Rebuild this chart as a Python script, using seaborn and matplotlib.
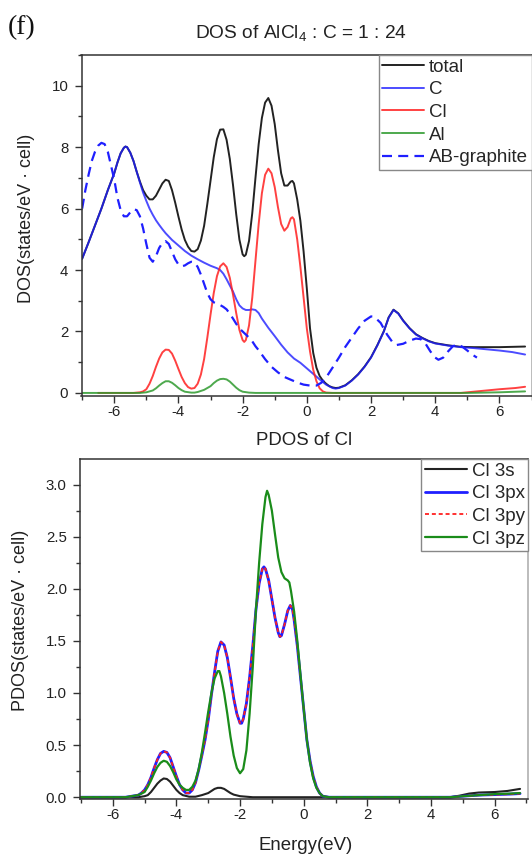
import matplotlib
matplotlib.use("Agg")
import matplotlib.pyplot as plt
from matplotlib.ticker import MultipleLocator
from matplotlib.lines import Line2D
import pandas as pd
import seaborn as sns

# ---------------- Upper panel: DOS of AlCl4 : C = 1 : 24 ----------------
total_e = [-7.0, -6.8, -6.6, -6.4, -6.2, -6.0, -5.9, -5.8, -5.7, -5.65, -5.6, -5.5, -5.4, -5.3,
           -5.2, -5.1, -5.0, -4.9, -4.8, -4.7, -4.6, -4.5, -4.4, -4.3, -4.2, -4.1, -4.0, -3.9,
           -3.8, -3.7, -3.6, -3.5, -3.4, -3.3, -3.2, -3.1, -3.0, -2.9, -2.8, -2.7, -2.6, -2.5,
           -2.4, -2.3, -2.2, -2.1, -2.0, -1.95, -1.9, -1.8, -1.7, -1.6, -1.5, -1.4, -1.3, -1.2,
           -1.1, -1.0, -0.9, -0.8, -0.7, -0.6, -0.5, -0.45, -0.4, -0.3, -0.2, -0.1, 0.0, 0.1,
           0.2, 0.3, 0.4, 0.5, 0.6, 0.7, 0.8, 0.9, 1.0, 1.2, 1.4, 1.6, 1.8, 2.0, 2.2, 2.4, 2.55,
           2.7, 2.85, 3.0, 3.2, 3.4, 3.6, 3.8, 4.0, 4.4, 4.8, 5.2, 5.6, 6.0, 6.4, 6.8]
total_dos = [4.37, 4.9, 5.45, 6.0, 6.6, 7.15, 7.5, 7.8, 7.98, 8.02, 8.0, 7.82, 7.55, 7.2,
             6.88, 6.6, 6.42, 6.3, 6.3, 6.42, 6.62, 6.82, 6.94, 6.9, 6.6, 6.19, 5.74, 5.32,
             4.98, 4.76, 4.62, 4.6, 4.68, 4.96, 5.44, 6.15, 6.91, 7.67, 8.26, 8.57, 8.58, 8.24,
             7.62, 6.77, 5.82, 4.99, 4.51, 4.45, 4.5, 4.95, 5.85, 7.0, 8.1, 8.95, 9.45, 9.6,
             9.35, 8.75, 7.9, 7.15, 6.75, 6.75, 6.88, 6.9, 6.82, 6.3, 5.6, 4.6, 3.4, 2.1,
             1.3, 0.82, 0.55, 0.4, 0.3, 0.22, 0.18, 0.16, 0.17, 0.25, 0.41, 0.61, 0.86, 1.16, 1.56, 2.01, 2.46,
             2.71, 2.59, 2.36, 2.11, 1.91, 1.79, 1.69, 1.62, 1.55, 1.5, 1.49, 1.49, 1.49, 1.5, 1.51]

c_e = [-7.0, -6.8, -6.6, -6.4, -6.2, -6.0, -5.9, -5.8, -5.7, -5.65, -5.6, -5.5, -5.4, -5.3, -5.2,
       -5.1, -5.0, -4.9, -4.8, -4.7, -4.6, -4.5, -4.4, -4.2, -4.0, -3.8, -3.6, -3.4, -3.2, -3.0,
       -2.8, -2.7, -2.6, -2.5, -2.4, -2.3, -2.2, -2.1, -2.0, -1.9, -1.8, -1.7, -1.6, -1.5, -1.4,
       -1.3, -1.2, -1.0, -0.8, -0.6, -0.4, -0.2, 0.0, 0.2, 0.4, 0.6, 0.8, 0.9, 1.0, 1.2, 1.4,
       1.6, 1.8, 2.0, 2.2, 2.4, 2.55, 2.7, 2.85, 3.0, 3.2, 3.4, 3.6, 3.8, 4.0, 4.4, 4.8, 5.2,
       5.6, 6.0, 6.4, 6.8]
c_dos = [4.37, 4.9, 5.45, 6.0, 6.6, 7.15, 7.5, 7.8, 7.98, 8.02, 8.0, 7.82, 7.55, 7.2, 6.85,
         6.52, 6.25, 6.0, 5.8, 5.62, 5.47, 5.33, 5.2, 4.98, 4.8, 4.62, 4.47, 4.35, 4.24, 4.14,
         4.06, 4.0, 3.88, 3.7, 3.5, 3.3, 3.05, 2.85, 2.75, 2.7, 2.7, 2.72, 2.7, 2.6, 2.42,
         2.27, 2.12, 1.85, 1.57, 1.32, 1.12, 0.98, 0.8, 0.62, 0.44, 0.27, 0.16, 0.14, 0.16, 0.24, 0.4,
         0.6, 0.85, 1.15, 1.55, 2.0, 2.45, 2.7, 2.58, 2.35, 2.1, 1.9, 1.78, 1.68, 1.61, 1.54, 1.49, 1.46,
         1.42, 1.38, 1.33, 1.25]

cl_e = [-6.5, -5.4, -5.2, -5.1, -5.0, -4.9, -4.8, -4.7, -4.6, -4.5, -4.4, -4.3, -4.2, -4.1, -4.0,
        -3.9, -3.8, -3.7, -3.6, -3.5, -3.4, -3.3, -3.2, -3.1, -3.0, -2.9, -2.8, -2.7, -2.6, -2.5,
        -2.4, -2.3, -2.2, -2.1, -2.0, -1.95, -1.9, -1.8, -1.7, -1.6, -1.5, -1.4, -1.3, -1.2, -1.1,
        -1.0, -0.9, -0.8, -0.7, -0.6, -0.5, -0.45, -0.4, -0.3, -0.2, -0.1, 0.0, 0.1, 0.2, 0.3,
        0.4, 0.5, 0.6, 0.8, 4.8, 5.5, 6.0, 6.5, 6.8]
cl_dos = [0.0, 0.0, 0.02, 0.05, 0.12, 0.3, 0.55, 0.85, 1.12, 1.32, 1.41, 1.4, 1.28, 1.05, 0.78,
          0.52, 0.32, 0.19, 0.14, 0.16, 0.3, 0.6, 1.1, 1.8, 2.55, 3.25, 3.8, 4.12, 4.22, 4.1,
          3.75, 3.2, 2.6, 2.05, 1.72, 1.66, 1.72, 2.2, 3.1, 4.3, 5.5, 6.5, 7.1, 7.3, 7.15,
          6.7, 6.05, 5.5, 5.28, 5.4, 5.68, 5.72, 5.65, 5.0, 4.1, 3.1, 2.1, 1.35, 0.75, 0.38,
          0.15, 0.05, 0.01, 0.0, 0.0, 0.07, 0.12, 0.16, 0.2]

al_e = [-7.0, -5.2, -5.0, -4.8, -4.7, -4.6, -4.5, -4.4, -4.3, -4.2, -4.1, -4.0, -3.9, -3.8, -3.6,
        -3.5, -3.4, -3.2, -3.0, -2.9, -2.8, -2.7, -2.6, -2.5, -2.4, -2.3, -2.2, -2.1, -2.0, -1.8,
        -1.6, 5.0, 6.0, 6.8]
al_dos = [0.0, 0.0, 0.02, 0.08, 0.15, 0.24, 0.32, 0.38, 0.38, 0.33, 0.25, 0.16, 0.09, 0.04, 0.01,
          0.01, 0.03, 0.1, 0.22, 0.32, 0.4, 0.45, 0.46, 0.44, 0.37, 0.27, 0.17, 0.09, 0.04, 0.01,
          0.0, 0.0, 0.02, 0.05]

abg_e = [-7.0, -6.9, -6.8, -6.7, -6.6, -6.5, -6.4, -6.3, -6.2, -6.1, -6.0, -5.9, -5.8, -5.7, -5.6,
         -5.5, -5.4, -5.3, -5.2, -5.1, -5.0, -4.9, -4.8, -4.7, -4.6, -4.5, -4.4, -4.3, -4.2, -4.1,
         -4.0, -3.9, -3.8, -3.7, -3.6, -3.5, -3.4, -3.3, -3.2, -3.1, -3.0, -2.9, -2.8, -2.7, -2.6,
         -2.5, -2.4, -2.3, -2.2, -2.1, -2.0, -1.9, -1.8, -1.7, -1.6, -1.5, -1.3, -1.1, -0.9, -0.7,
         -0.5, -0.3, -0.1, 0.1, 0.3, 0.45, 0.6, 0.8, 1.0, 1.2, 1.4, 1.6, 1.8, 2.0, 2.1, 2.3, 2.5,
         2.65, 2.8, 3.0, 3.2, 3.4, 3.55, 3.7, 3.85, 4.0, 4.1, 4.25, 4.4, 4.55, 4.7, 4.85, 5.0,
         5.15, 5.3]
abg_dos = [6.0, 6.6, 7.1, 7.55, 7.85, 8.05, 8.14, 8.1, 7.85, 7.4, 6.95, 6.35, 5.95, 5.75, 5.75,
           5.88, 5.98, 5.95, 5.75, 5.35, 4.85, 4.4, 4.27, 4.45, 4.72, 4.88, 4.94, 4.85, 4.6, 4.35,
           4.18, 4.12, 4.15, 4.22, 4.27, 4.25, 4.1, 3.85, 3.55, 3.25, 3.05, 2.95, 2.9, 2.86, 2.8,
           2.72, 2.58, 2.42, 2.25, 2.1, 2.0, 1.9, 1.8, 1.68, 1.52, 1.39, 1.1, 0.85, 0.67, 0.52,
           0.43, 0.34, 0.27, 0.24, 0.24, 0.33, 0.5, 0.82, 1.15, 1.5, 1.8, 2.1, 2.35, 2.49, 2.48, 2.28, 1.9,
           1.68, 1.56, 1.6, 1.7, 1.77, 1.75, 1.6, 1.35, 1.15, 1.08, 1.15, 1.35, 1.52, 1.58, 1.5, 1.38,
           1.25, 1.15]

# ---------------- Lower panel: PDOS of Cl ----------------
s_e = [-7.0, -5.2, -5.0, -4.9, -4.8, -4.7, -4.6, -4.5, -4.4, -4.3, -4.2, -4.1, -4.0, -3.9, -3.8,
       -3.6, -3.4, -3.2, -3.0, -2.9, -2.8, -2.7, -2.6, -2.5, -2.4, -2.3, -2.2, -2.0, -1.8, -1.6,
       -1.4, 4.6, 4.9, 5.2, 5.5, 6.0, 6.4, 6.8]
s_pdos = [0.0, 0.0, 0.01, 0.02, 0.05, 0.09, 0.13, 0.16, 0.18, 0.175, 0.15, 0.11, 0.07, 0.04, 0.02,
          0.005, 0.005, 0.02, 0.04, 0.06, 0.08, 0.09, 0.09, 0.08, 0.06, 0.04, 0.025, 0.01, 0.005, 0.0,
          0.0, 0.0, 0.015, 0.035, 0.045, 0.05, 0.06, 0.08]

p_e = [-7.0, -5.6, -5.4, -5.2, -5.1, -5.0, -4.9, -4.8, -4.7, -4.6, -4.5, -4.4, -4.3, -4.2, -4.1,
       -4.0, -3.9, -3.8, -3.7, -3.6, -3.5, -3.4, -3.3, -3.2, -3.1, -3.0, -2.9, -2.8, -2.7, -2.6,
       -2.5, -2.4, -2.3, -2.2, -2.1, -2.0, -1.95, -1.9, -1.8, -1.7, -1.6, -1.5, -1.4, -1.3, -1.25,
       -1.2, -1.1, -1.0, -0.9, -0.8, -0.75, -0.7, -0.6, -0.5, -0.42, -0.35, -0.3, -0.2, -0.1, 0.0,
       0.1, 0.2, 0.3, 0.4, 0.5, 0.6, 0.8, 4.6, 5.0, 5.5, 6.0, 6.5, 6.8]
px_pdos = [0.0, 0.0, 0.01, 0.02, 0.04, 0.07, 0.12, 0.19, 0.28, 0.36, 0.42, 0.44, 0.43, 0.38, 0.29,
           0.2, 0.12, 0.07, 0.04, 0.04, 0.07, 0.14, 0.26, 0.4, 0.55, 0.74, 0.98, 1.2, 1.4, 1.49,
           1.46, 1.34, 1.15, 0.95, 0.8, 0.71, 0.71, 0.75, 0.9, 1.15, 1.45, 1.8, 2.05, 2.19, 2.21,
           2.19, 2.08, 1.9, 1.72, 1.58, 1.54, 1.55, 1.66, 1.79, 1.84, 1.8, 1.7, 1.45, 1.15, 0.85,
           0.55, 0.35, 0.2, 0.1, 0.04, 0.01, 0.0, 0.0, 0.01, 0.02, 0.025, 0.03, 0.035]
py_pdos = [0.0, 0.0, 0.01, 0.02, 0.04, 0.07, 0.12, 0.19, 0.28, 0.36, 0.42, 0.44, 0.43, 0.38, 0.29,
           0.2, 0.12, 0.07, 0.04, 0.04, 0.07, 0.14, 0.26, 0.4, 0.55, 0.74, 0.98, 1.2, 1.4, 1.49,
           1.46, 1.34, 1.15, 0.95, 0.8, 0.71, 0.71, 0.75, 0.9, 1.15, 1.45, 1.8, 2.05, 2.19, 2.21,
           2.19, 2.08, 1.9, 1.72, 1.58, 1.54, 1.55, 1.66, 1.79, 1.84, 1.8, 1.7, 1.45, 1.15, 0.85,
           0.55, 0.35, 0.2, 0.1, 0.04, 0.01, 0.0, 0.0, 0.01, 0.02, 0.025, 0.03, 0.035]

pz_e = [-7.0, -5.6, -5.4, -5.2, -5.0, -4.9, -4.8, -4.7, -4.6, -4.5, -4.4, -4.3, -4.2, -4.1, -4.0,
        -3.9, -3.8, -3.7, -3.6, -3.5, -3.4, -3.3, -3.2, -3.1, -3.0, -2.9, -2.8, -2.7, -2.65, -2.6,
        -2.5, -2.4, -2.3, -2.2, -2.1, -2.0, -1.9, -1.8, -1.7, -1.6, -1.5, -1.4, -1.3, -1.2, -1.15,
        -1.1, -1.0, -0.9, -0.8, -0.7, -0.6, -0.5, -0.45, -0.4, -0.3, -0.2, -0.1, 0.0, 0.1, 0.2,
        0.3, 0.4, 0.5, 0.6, 0.8, 4.6, 5.0, 5.5, 6.0, 6.5, 6.8]
pz_pdos = [0.0, 0.0, 0.01, 0.02, 0.05, 0.1, 0.16, 0.23, 0.29, 0.33, 0.35, 0.34, 0.3, 0.24, 0.17,
           0.12, 0.09, 0.07, 0.07, 0.1, 0.16, 0.27, 0.43, 0.62, 0.82, 1.0, 1.14, 1.21, 1.21, 1.16,
           1.0, 0.8, 0.58, 0.4, 0.28, 0.23, 0.27, 0.45, 0.8, 1.25, 1.8, 2.25, 2.62, 2.88, 2.94,
           2.9, 2.75, 2.52, 2.3, 2.16, 2.1, 2.08, 2.06, 1.98, 1.78, 1.5, 1.17, 0.85, 0.55, 0.33,
           0.18, 0.09, 0.04, 0.01, 0.0, 0.0, 0.01, 0.02, 0.03, 0.035, 0.04]

dos_labels = ["total", "C", "Cl", "Al", "AB-graphite"]
pdos_labels = ["Cl 3s", "Cl 3px", "Cl 3py", "Cl 3pz"]

sns.set_style("ticks")
plt.rcParams["font.family"] = ["Liberation Sans", "DejaVu Sans"]
plt.rcParams["mathtext.fontset"] = "custom"
plt.rcParams["mathtext.rm"] = "Liberation Sans"
plt.rcParams["mathtext.default"] = "regular"
plt.rcParams["axes.unicode_minus"] = False

fig = plt.figure(figsize=(5.32, 8.55), dpi=100)
ax1 = fig.add_axes([81.5 / 532, 1 - 396 / 855, 450 / 532, 341 / 855])
ax2 = fig.add_axes([80 / 532, 1 - 799 / 855, 448 / 532, 340 / 855])

BLACK = "#222222"
BLUE = "#1f1fff"
RED = "#ff2020"
GREEN = "#2e9a2e"
DKGREEN = "#1a8c1a"


def draw(ax, e, v, **kw):
    df = pd.DataFrame({"E": e, "v": v})
    sns.lineplot(data=df, x="E", y="v", ax=ax, estimator=None, sort=False, **kw)


draw(ax1, total_e, total_dos, color=BLACK, lw=1.4)
draw(ax1, c_e, c_dos, color=BLUE, lw=1.4, alpha=0.8)
draw(ax1, cl_e, cl_dos, color=RED, lw=1.4, alpha=0.85)
draw(ax1, al_e, al_dos, color=GREEN, lw=1.4, alpha=0.85)
draw(ax1, abg_e, abg_dos, color=BLUE, lw=1.6, linestyle=(0, (4.5, 2.8)))

draw(ax2, s_e, s_pdos, color=BLACK, lw=1.5)
draw(ax2, p_e, px_pdos, color=BLUE, lw=2.0)
draw(ax2, p_e, py_pdos, color=RED, lw=1.3, linestyle=(0, (2.2, 1.6)))
draw(ax2, pz_e, pz_pdos, color=DKGREEN, lw=1.6)

ax1.set_xlim(-7.02, 7.0)
ax1.set_ylim(-0.1, 11.0)
ax2.set_xlim(-7.03, 7.05)
ax2.set_ylim(-0.017, 3.245)

for ax in (ax1, ax2):
    ax.set_xlabel("")
    ax.set_ylabel("")
    ax.xaxis.set_major_locator(MultipleLocator(2))
    ax.xaxis.set_minor_locator(MultipleLocator(1))
    ax.tick_params(which="both", direction="out", color="#333333", width=1.0)
    ax.tick_params(which="major", length=5, labelsize=10.8, labelcolor="#222222")
    ax.tick_params(which="minor", length=3)
    ax.tick_params(axis="x", pad=1.5)
    ax.tick_params(axis="y", pad=4.5)
    for side in ("left", "bottom", "top", "right"):
        ax.spines[side].set_visible(True)
        ax.spines[side].set_color("#333333")
        ax.spines[side].set_linewidth(1.1)
    ax.spines["right"].set_color("#aaaaaa")

ax1.yaxis.set_major_locator(MultipleLocator(2))
ax1.yaxis.set_minor_locator(MultipleLocator(1))
ax2.yaxis.set_major_locator(MultipleLocator(0.5))
ax2.yaxis.set_minor_locator(MultipleLocator(0.25))
ax2.yaxis.set_major_formatter(matplotlib.ticker.FormatStrFormatter("%.1f"))

legend_style = dict(loc="upper right", bbox_to_anchor=(1.0, 1.0), borderaxespad=0,
                    frameon=True, fancybox=False, framealpha=1, edgecolor="#888888",
                    fontsize=13.5, handlelength=2.25, handletextpad=0.25,
                    labelspacing=0.3, borderpad=0.18)

h1 = [Line2D([], [], color=BLACK, lw=1.4),
      Line2D([], [], color=BLUE, lw=1.4, alpha=0.8),
      Line2D([], [], color=RED, lw=1.4, alpha=0.85),
      Line2D([], [], color=GREEN, lw=1.4, alpha=0.85),
      Line2D([], [], color=BLUE, lw=1.6, linestyle=(0, (4.5, 2.8)))]
leg1 = ax1.legend(h1, dos_labels, **legend_style)
leg1.get_frame().set_linewidth(1.0)

h2 = [Line2D([], [], color=BLACK, lw=1.5),
      Line2D([], [], color=BLUE, lw=2.0),
      Line2D([], [], color=RED, lw=1.3, linestyle=(0, (2.2, 1.6))),
      Line2D([], [], color=DKGREEN, lw=1.6)]
leg2 = ax2.legend(h2, pdos_labels, **legend_style)
leg2.get_frame().set_linewidth(1.0)

# titles and axis labels
fig.text(7.5 / 532, 1 - 28 / 855, "(f)", family="Liberation Serif", fontsize=20,
         ha="left", va="center", color="#111111")
fig.text(301.5 / 532, 1 - 38 / 855, "DOS of AlCl$_4$ : C = 1 : 24", fontsize=13.8,
         ha="center", va="baseline", color="#222222")
fig.text(304.5 / 532, 1 - 445 / 855, "PDOS of Cl", fontsize=13.4,
         ha="center", va="baseline", color="#222222")
fig.text(305.5 / 532, 1 - 850 / 855, "Energy(eV)", fontsize=13.4,
         ha="center", va="baseline", color="#222222")
fig.text(26.5 / 532, 1 - 218 / 855, "DOS(states/eV · cell)", fontsize=13, rotation=90,
         ha="center", va="center", color="#222222")
fig.text(21 / 532, 1 - 620 / 855, "PDOS(states/eV · cell)", fontsize=13, rotation=90,
         ha="center", va="center", color="#222222")

fig.savefig("out.png", dpi=100)
